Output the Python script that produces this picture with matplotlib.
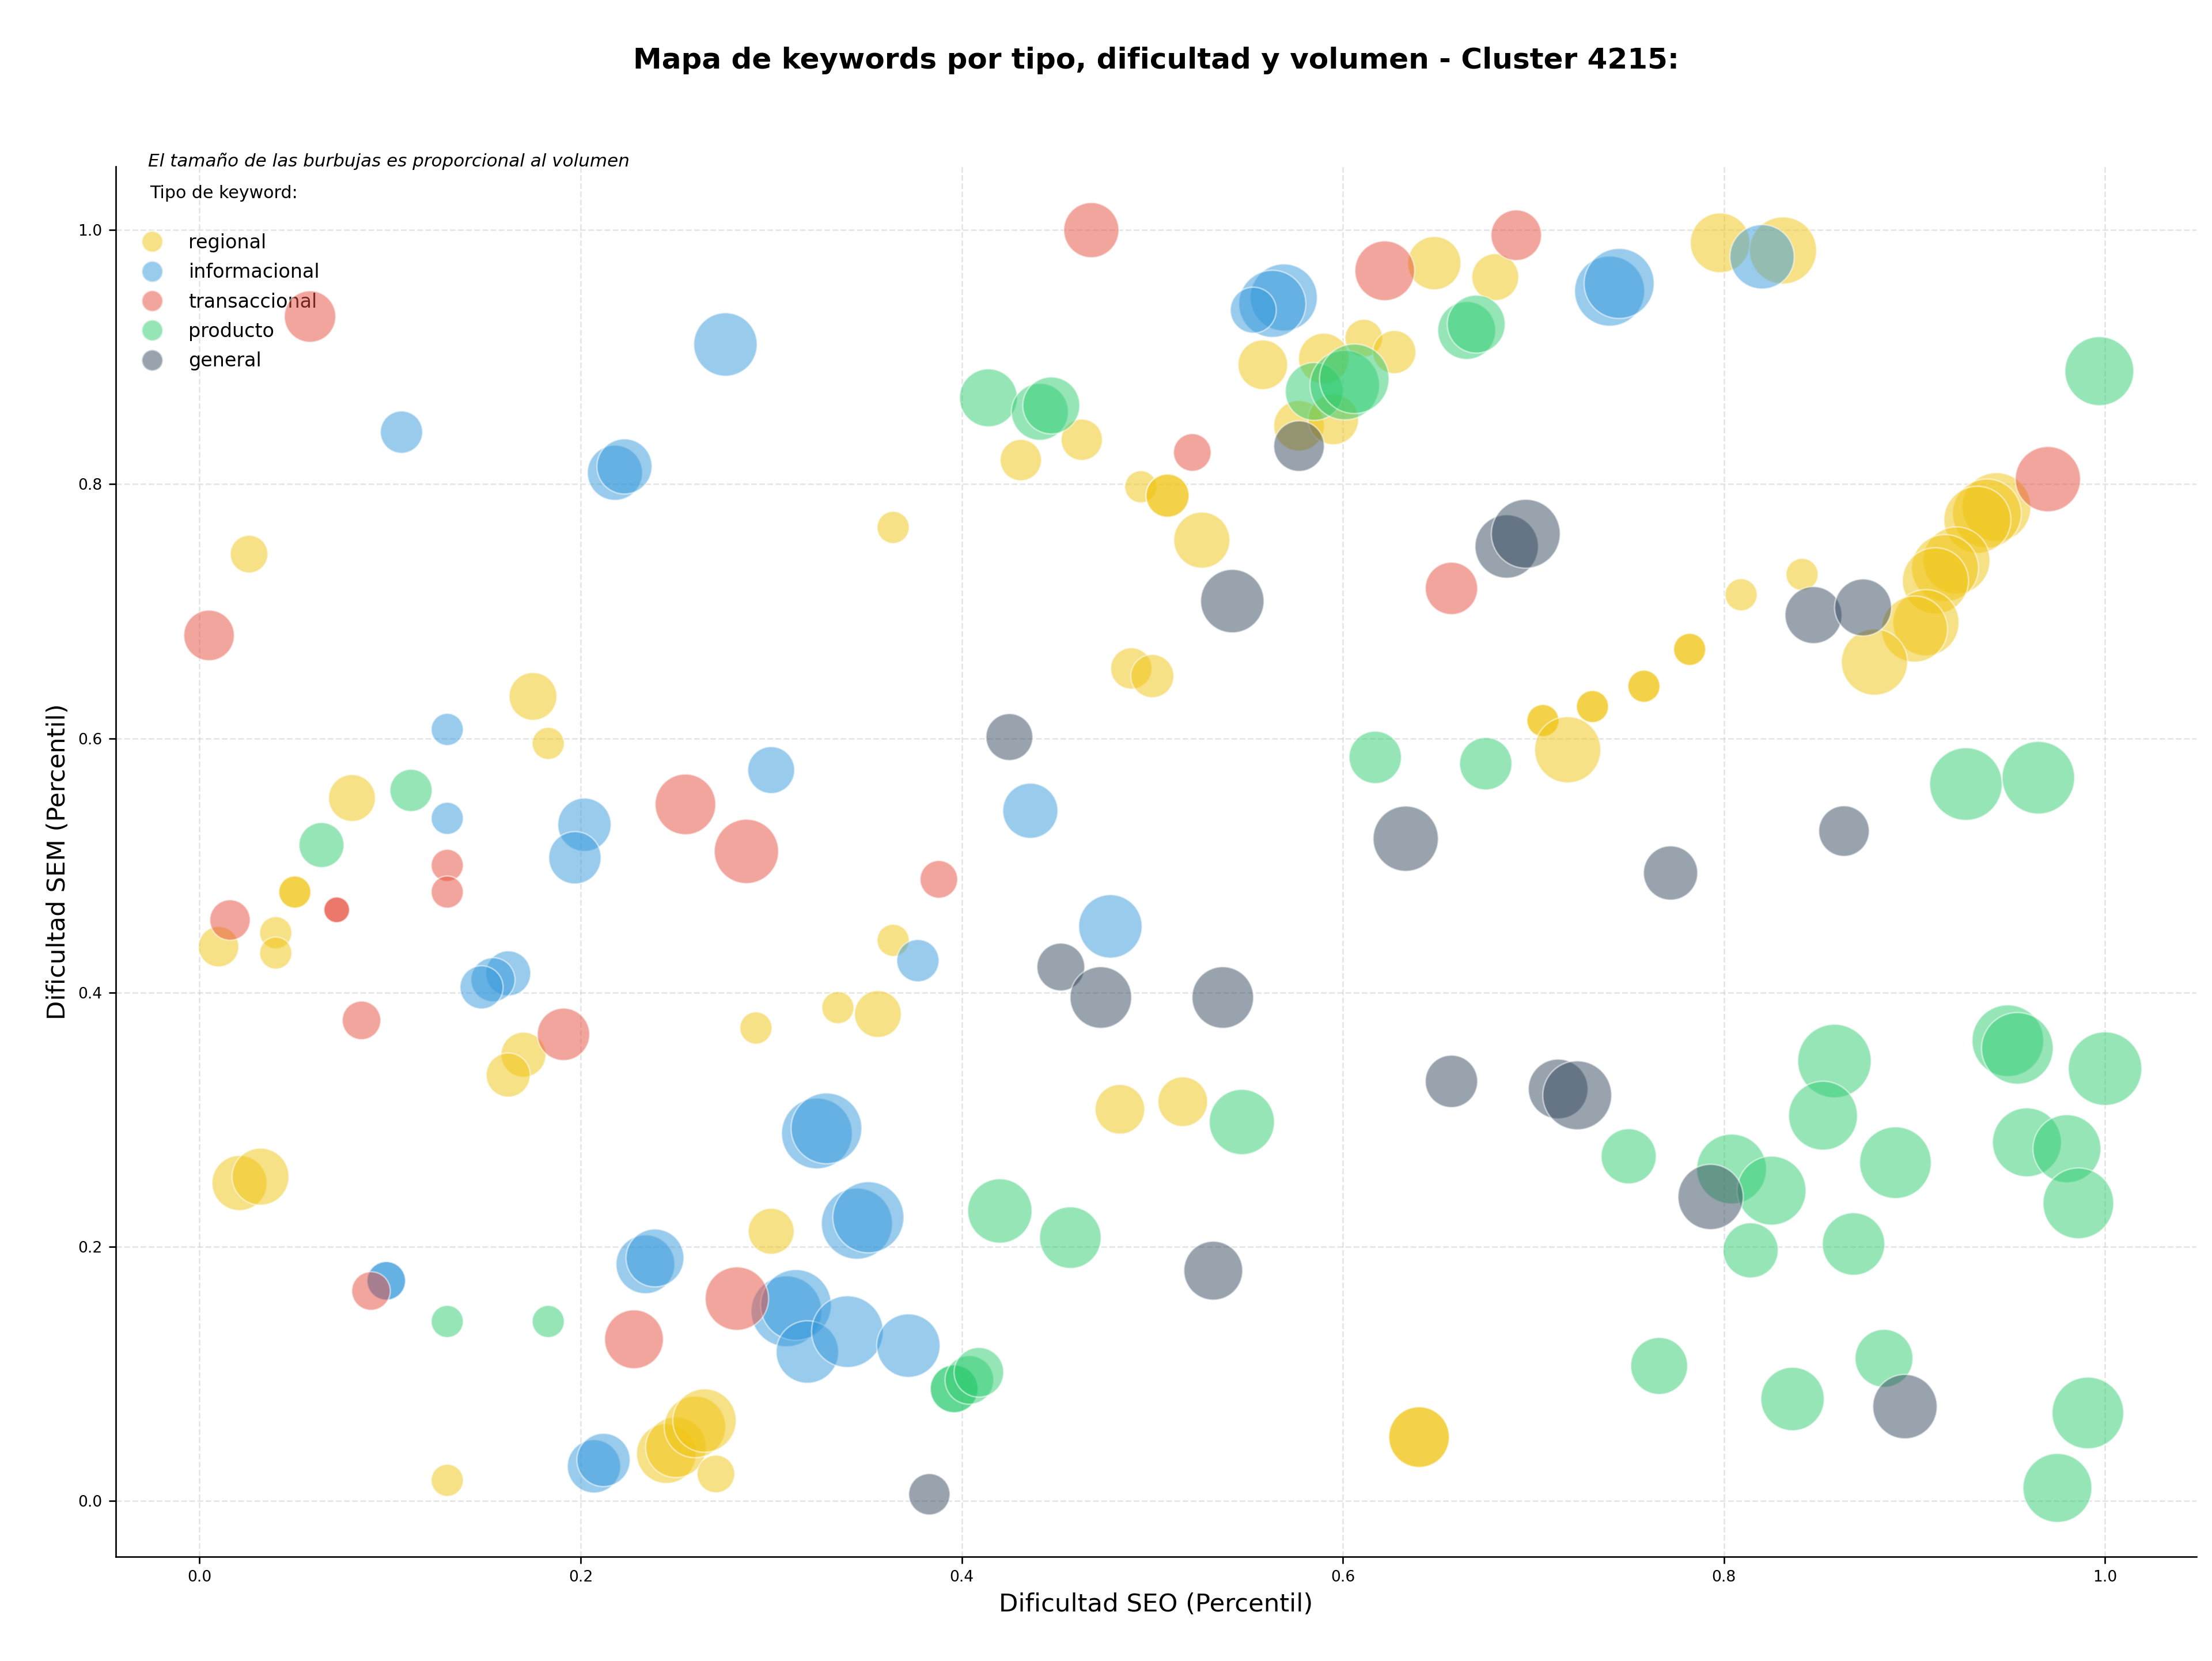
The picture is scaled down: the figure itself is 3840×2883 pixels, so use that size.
import matplotlib
matplotlib.use("Agg")
import matplotlib.pyplot as plt
from matplotlib.lines import Line2D

# ---- data: (dificultad SEO, dificultad SEM, volumen) por tipo de keyword ----
tipos = ["regional", "informacional", "transaccional", "producto", "general"]
colores = ["#F1C40F", "#3498DB", "#E74C3C", "#2ECC71", "#34495E"]

reg_seo = [0.026, 0.175, 0.183, 0.080, 0.050, 0.050, 0.040, 0.040, 0.010, 0.170, 0.162,
           0.292, 0.021, 0.032, 0.300, 0.245, 0.250, 0.260, 0.265, 0.271, 0.130,
           0.364, 0.335, 0.356, 0.483, 0.516, 0.364, 0.463, 0.431, 0.494, 0.508, 0.508,
           0.526, 0.489, 0.500, 0.558, 0.590, 0.611, 0.627, 0.577, 0.595, 0.648, 0.680,
           0.640, 0.640, 0.798, 0.831, 0.841, 0.809, 0.943, 0.938, 0.933, 0.922, 0.916,
           0.911, 0.906, 0.900, 0.879, 0.782, 0.782, 0.758, 0.758, 0.731, 0.731,
           0.705, 0.705, 0.718]
reg_sem = [0.745, 0.633, 0.596, 0.553, 0.479, 0.479, 0.447, 0.431, 0.436, 0.351, 0.335,
           0.372, 0.250, 0.255, 0.212, 0.037, 0.042, 0.058, 0.063, 0.021, 0.016,
           0.441, 0.388, 0.383, 0.308, 0.314, 0.766, 0.835, 0.819, 0.798, 0.791, 0.791,
           0.756, 0.655, 0.649, 0.894, 0.899, 0.915, 0.904, 0.846, 0.851, 0.974, 0.963,
           0.050, 0.050, 0.990, 0.984, 0.729, 0.713, 0.782, 0.777, 0.772, 0.740, 0.734,
           0.724, 0.691, 0.686, 0.660, 0.670, 0.670, 0.641, 0.641, 0.625, 0.625,
           0.614, 0.614, 0.591]
reg_vol = [384, 618, 280, 595, 280, 280, 280, 280, 443, 549, 527,
           280, 823, 879, 572, 966, 996, 1027, 1089, 384, 280,
           280, 280, 595, 667, 667, 280, 463, 463, 280, 505, 505,
           851, 463, 505, 667, 692, 384, 505, 692, 692, 769, 595,
           996, 996, 966, 1219, 280, 280, 1286, 1286, 1219, 1219, 1219,
           1186, 1186, 1186, 1186, 280, 280, 280, 280, 280, 280,
           280, 280, 1186]

inf_seo = [0.276, 0.106, 0.218, 0.223, 0.130, 0.300, 0.130, 0.202, 0.197, 0.162,
           0.154, 0.148, 0.324, 0.329, 0.234, 0.239, 0.098, 0.098, 0.308, 0.313,
           0.319, 0.207, 0.212, 0.377, 0.478, 0.345, 0.351, 0.340, 0.372, 0.436,
           0.569, 0.563, 0.553, 0.740, 0.745, 0.820]
inf_sem = [0.910, 0.841, 0.809, 0.814, 0.607, 0.575, 0.537, 0.532, 0.506, 0.415,
           0.410, 0.404, 0.289, 0.293, 0.186, 0.191, 0.173, 0.173, 0.149, 0.154,
           0.117, 0.027, 0.032, 0.425, 0.452, 0.218, 0.223, 0.133, 0.122, 0.543,
           0.947, 0.942, 0.937, 0.952, 0.958, 0.979]
inf_vol = [1089, 484, 823, 823, 280, 595, 280, 769, 743, 549,
           527, 505, 1356, 1356, 937, 908, 403, 403, 1356, 1356,
           1057, 769, 769, 484, 1089, 1370, 1370, 1391, 1089, 823,
           1219, 1219, 572, 1330, 1330, 1121]

tra_seo = [0.058, 0.005, 0.255, 0.287, 0.130, 0.130, 0.072, 0.072, 0.016,
           0.085, 0.191, 0.090, 0.228, 0.282, 0.388, 0.468, 0.622, 0.691, 0.521,
           0.657, 0.970]
tra_sem = [0.932, 0.681, 0.548, 0.511, 0.500, 0.479, 0.465, 0.465, 0.457,
           0.378, 0.367, 0.165, 0.127, 0.159, 0.489, 1.000, 0.968, 0.996, 0.825,
           0.718, 0.804]
tra_vol = [717, 692, 996, 1121, 280, 280, 179, 179, 443,
           403, 743, 403, 937, 1089, 384, 823, 966, 692, 384,
           743, 1153]

pro_seo = [0.111, 0.064, 0.130, 0.183, 0.414, 0.441, 0.447, 0.665, 0.670, 0.585,
           0.601, 0.606, 0.617, 0.675, 0.420, 0.457, 0.547, 0.396, 0.396, 0.404,
           0.409, 0.997, 0.927, 0.965, 0.750, 0.804, 0.825, 0.814, 0.858, 0.852,
           0.890, 0.868, 0.949, 0.954, 1.000, 0.959, 0.980, 0.986, 0.766, 0.836,
           0.884, 0.991, 0.975]
pro_sem = [0.559, 0.516, 0.141, 0.141, 0.868, 0.857, 0.862, 0.921, 0.926, 0.873,
           0.878, 0.883, 0.585, 0.580, 0.228, 0.207, 0.298, 0.088, 0.088, 0.095,
           0.101, 0.889, 0.564, 0.569, 0.271, 0.261, 0.244, 0.197, 0.346, 0.303,
           0.266, 0.202, 0.362, 0.356, 0.340, 0.282, 0.277, 0.234, 0.106, 0.080,
           0.112, 0.069, 0.010]
pro_vol = [484, 549, 280, 280, 908, 879, 879, 908, 908, 908,
           1310, 1310, 743, 743, 1121, 1027, 1153, 618, 618, 642,
           667, 1286, 1427, 1427, 823, 1321, 1286, 823, 1464, 1286,
           1391, 1057, 1391, 1391, 1464, 1286, 1252, 1356, 879, 1089,
           908, 1391, 1286]

gen_seo = [0.452, 0.473, 0.537, 0.657, 0.532, 0.383, 0.542, 0.577, 0.425, 0.633,
           0.686, 0.696, 0.847, 0.873, 0.863, 0.772, 0.713, 0.723, 0.793, 0.895]
gen_sem = [0.420, 0.396, 0.396, 0.330, 0.181, 0.005, 0.708, 0.830, 0.601, 0.521,
           0.751, 0.761, 0.697, 0.703, 0.527, 0.494, 0.324, 0.319, 0.239, 0.074]
gen_vol = [618, 1027, 1027, 743, 937, 463, 1089, 692, 595, 1153,
           1089, 1286, 879, 879, 692, 796, 966, 1286, 1153, 1121]

series = [(reg_seo, reg_sem, reg_vol), (inf_seo, inf_sem, inf_vol),
          (tra_seo, tra_sem, tra_vol), (pro_seo, pro_sem, pro_vol),
          (gen_seo, gen_sem, gen_vol)]

fig = plt.figure(figsize=(16, 12.0125), dpi=240)
ax = fig.add_axes([0.0523, 0.0629, 0.9407, 0.8368])

for (xs, ys, vs), col in zip(series, colores):
    ax.scatter(xs, ys, s=vs, c=col, alpha=0.5, edgecolors="white", linewidths=0.8, zorder=3)

ax.set_xlim(-0.044, 1.048)
ax.set_ylim(-0.044, 1.05)
ax.set_xticks([0.0, 0.2, 0.4, 0.6, 0.8, 1.0])
ax.set_yticks([0.0, 0.2, 0.4, 0.6, 0.8, 1.0])
ax.tick_params(labelsize=8)
ax.grid(True, linestyle="--", color="#cccccc", alpha=0.5, linewidth=0.8)
ax.set_axisbelow(True)
ax.spines["top"].set_visible(False)
ax.spines["right"].set_visible(False)

ax.set_xlabel("Dificultad SEO (Percentil)", fontsize=13)
ax.set_ylabel("Dificultad SEM (Percentil)", fontsize=13)
ax.set_title("Mapa de keywords por tipo, dificultad y volumen - Cluster 4215:",
             fontsize=15, fontweight="bold", pad=51)

ax.text(0.0156, 1.0, "El tamaño de las burbujas es proporcional al volumen",
        transform=ax.transAxes, fontsize=9.3, style="italic", va="baseline", ha="left")
ax.text(0.0163, 0.9807, "Tipo de keyword:", transform=ax.transAxes,
        fontsize=9, va="center", ha="left", zorder=2)

handles = [Line2D([], [], marker="o", linestyle="", markersize=11, markerfacecolor=c,
                  markeredgecolor="white", alpha=0.5) for c in colores]
leg = ax.legend(handles, tipos, loc="upper left",
                bbox_to_anchor=(0.0, 0.9644), frameon=False, fontsize=10,
                labelspacing=0.55, handletextpad=0.9)
leg.set_zorder(2)  # las burbujas quedan por encima de la leyenda

fig.savefig("out.png", dpi=240)
